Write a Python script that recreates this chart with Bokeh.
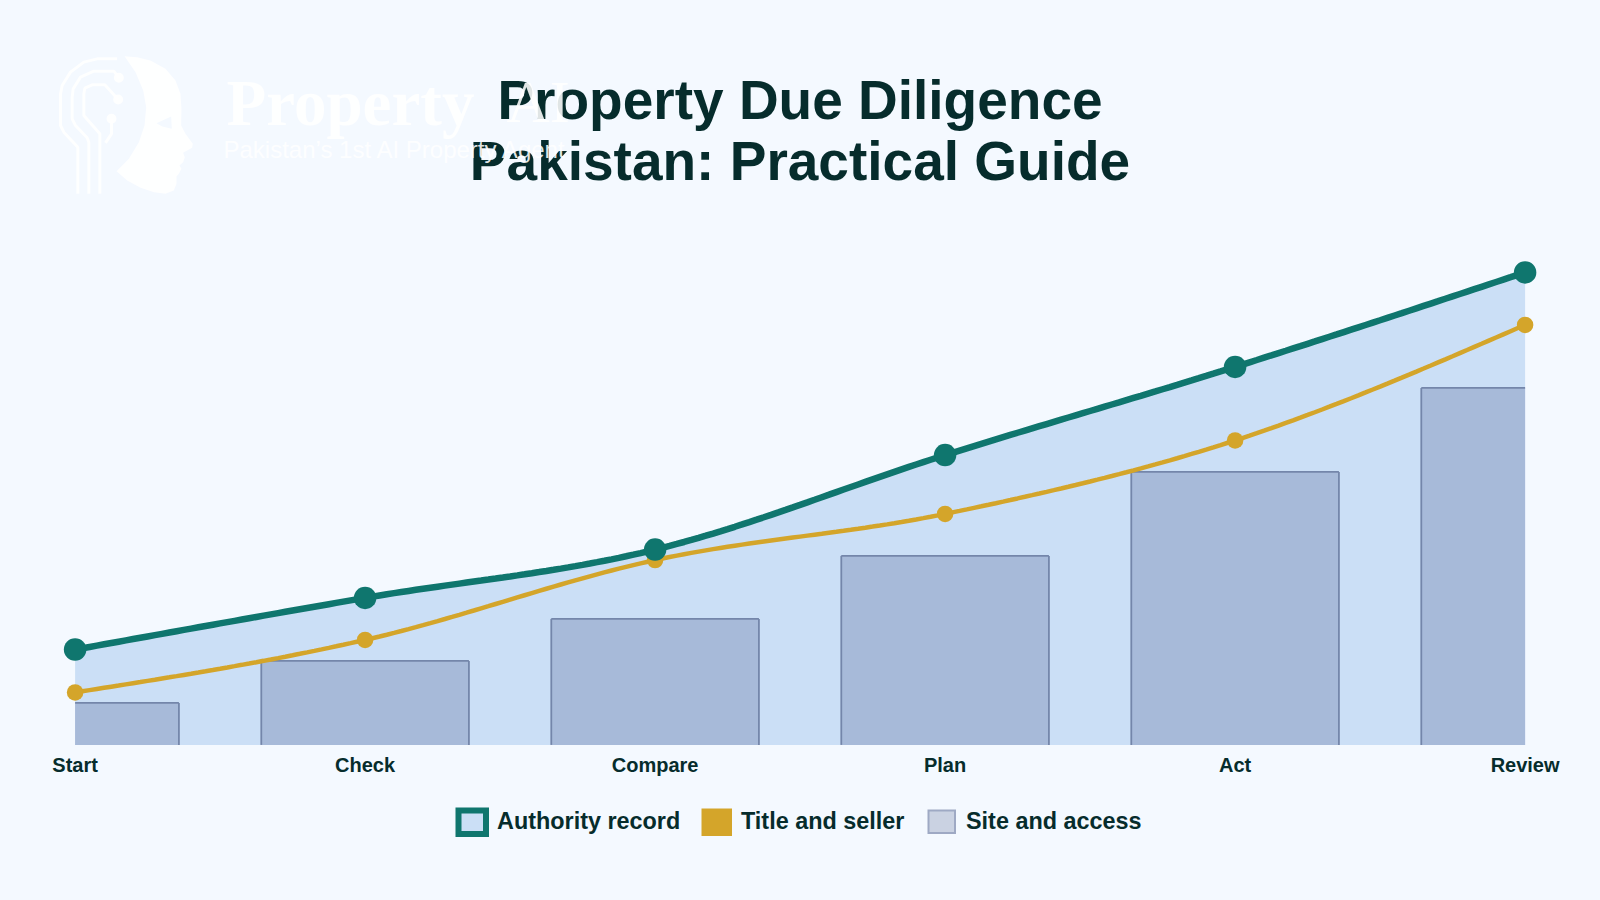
from bokeh.core.properties import value
from bokeh.embed import file_html
from bokeh.models import FixedTicker, LinearAxis, Range1d
from bokeh.plotting import figure
from bokeh.resources import INLINE

categories = ["Start", "Check", "Compare", "Plan", "Act", "Review"]
authority_record = [22.7, 35, 46.5, 69, 90, 112.5]
title_and_seller = [12.5, 25, 44, 55, 72.5, 100]
site_and_access = [10, 20, 30, 45, 65, 85]

BG = "#f4f9ff"
INK = "#062c2c"
TEAL = "#0f766e"
GOLD = "#d4a52a"
AREA = "#cbdff6"
BAR = "#a7bad9"
BAR_LINE = "#7486aa"

PX_X0, PX_STEP, PX_Y0, PX_UNIT = 74.6, 290, 744.4, 4.2
def X(px): return (px - PX_X0) / PX_STEP
def Y(py): return (PX_Y0 - py) / PX_UNIT

def monotone(ys, n=40):
    """d3 curveMonotoneX through the values, at unit x spacing."""
    m = len(ys)
    s = [ys[i + 1] - ys[i] for i in range(m - 1)]
    t = [0.0] * m
    for i in range(1, m - 1):
        a, b = s[i - 1], s[i]
        sign = (1 if a > 0 else -1) + (1 if b > 0 else -1)
        t[i] = sign * min(abs(a), abs(b), 0.25 * abs(a + b))
    t[0] = (3 * s[0] - t[1]) / 2
    t[-1] = (3 * s[-1] - t[-2]) / 2
    xs, out = [], []
    for i in range(m - 1):
        p0, p3 = ys[i], ys[i + 1]
        p1, p2 = p0 + t[i] / 3, p3 - t[i + 1] / 3
        for k in range(n + (i == m - 2)):
            u = k / n
            v = 1 - u
            xs.append(i + u)
            out.append(v**3 * p0 + 3 * v * v * u * p1 + 3 * v * u * u * p2 + u**3 * p3)
    return xs, out

W, H = 1584, 884
p = figure(width=W, height=H, output_backend="svg", toolbar_location=None,
           x_axis_type=None, y_axis_type=None, min_border=0,
           x_range=Range1d(X(0), X(W)), y_range=Range1d(Y(H), Y(0)),
           background_fill_color=BG, border_fill_color=BG, outline_line_color=None)
p.grid.visible = False

n = len(categories)
xs_idx = list(range(n))

tx, ty = monotone(authority_record)
p.varea(tx, y1=[0] * len(tx), y2=ty, fill_color=AREA)

half = 0.358
lefts = [max(i - half, 0) for i in xs_idx]
rights = [min(i + half, n - 1) for i in xs_idx]
p.quad(left=lefts, right=rights, bottom=0, top=site_and_access, fill_color=BAR, line_color=None)
p.segment(lefts, site_and_access, rights, site_and_access, line_color=BAR_LINE, line_width=1.8)
for i in xs_idx:
    if i - half >= 0:
        p.segment([lefts[i]], [0], [lefts[i]], [site_and_access[i]], line_color=BAR_LINE, line_width=1.8)
    if i + half <= n - 1:
        p.segment([rights[i]], [0], [rights[i]], [site_and_access[i]], line_color=BAR_LINE, line_width=1.8)

gx, gy = monotone(title_and_seller)
p.line(gx, gy, line_color=GOLD, line_width=4.5)
p.scatter(xs_idx, title_and_seller, size=16.5, fill_color=GOLD, line_color=None)
p.line(tx, ty, line_color=TEAL, line_width=6.5)
p.scatter(xs_idx, authority_record, size=22.5, fill_color=TEAL, line_color=None)

axis = LinearAxis(ticker=FixedTicker(ticks=xs_idx),
                  major_label_overrides={i: c for i, c in enumerate(categories)},
                  fixed_location=0,
                  axis_line_color=None, major_tick_line_color=None, minor_tick_line_color=None,
                  major_label_text_font="Liberation Sans", major_label_text_font_style="bold",
                  major_label_text_font_size="20px", major_label_text_color=INK,
                  major_label_standoff=3)
p.add_layout(axis, "below")

def txt(px, py, s, size, color=INK, style="bold", font="Liberation Sans", align="left", alpha=1.0):
    p.text([X(px)], [Y(py)], text=[s], text_font=value(font), text_font_style=style,
           text_font_size=f"{size}px", text_color=color, text_align=align,
           text_baseline="alphabetic", text_alpha=alpha)

txt(799.5, 99, "Property Due Diligence", 55, align="center")
txt(799.5, 160, "Pakistan: Practical Guide", 55, align="center")

# Watermark logo, over the title
LOGO = "#ffffff"
LA = 0.88
def zx(v): return X(50 + v / 3)
def zy(v): return Y(50 + v / 3)
head = [(222,17),(260,20),(300,30),(345,55),(375,90),(390,130),(393,175),(392,225),(405,250),(427,280),
        (425,292),(398,307),(403,320),(398,335),(387,345),(393,355),(385,370),(378,378),(378,400),(370,420),
        (345,430),(310,425),(270,412),(230,390),(198,362),(235,325),(265,275),(282,225),(287,170),(278,120),(255,65)]
eye = [(318,218),(362,198),(364,235),(335,228)]
p.patch([zx(a) for a, _ in head], [zy(b) for _, b in head], fill_color=LOGO, fill_alpha=LA, line_color=None)
p.patch([zx(a) for a, _ in eye], [zy(b) for _, b in eye], fill_color=BG, line_color=None)
traces = [
    [(200,25),(140,25),(100,35),(60,65),(35,105),(30,130),(30,225),(40,245),(82,290),(82,430)],
    [(205,82),(190,62),(130,62),(90,80),(68,115),(65,140),(65,205),(75,225),(110,262),(115,275),(115,430)],
    [(203,147),(163,103),(125,103),(103,113),(100,130),(100,195),(148,250),(148,430)],
    [(183,205),(183,250),(165,277)],
]
for tr in traces:
    p.line([zx(a) for a, _ in tr], [zy(b) for _, b in tr], line_color=LOGO, line_alpha=LA, line_width=3)
p.scatter([zx(205), zx(203), zx(183)], [zy(82), zy(147), zy(205)], size=10, fill_color=LOGO, fill_alpha=LA, line_color=None)
txt(226, 102, "Property", 65, color=LOGO, font="Liberation Serif", alpha=LA)
txt(506, 101, "AI", 60, color=LOGO, style="normal", font="Liberation Serif", alpha=LA)
txt(223, 149, "Pakistan\u2019s 1st AI Property Agent", 24, color=LOGO, style="normal", alpha=LA)

# Legend
p.quad(left=[X(458)], right=[X(485.5)], bottom=[Y(833.5)], top=[Y(810)], fill_color=AREA,
       line_color=TEAL, line_width=6, line_join="miter")
p.quad(left=[X(701)], right=[X(731.5)], bottom=[Y(835.5)], top=[Y(808)], fill_color=GOLD, line_color=None)
p.quad(left=[X(928)], right=[X(954.5)], bottom=[Y(832.5)], top=[Y(810)], fill_color="#cad2e2",
       line_color="#9ea9c4", line_width=2, line_join="miter")
txt(496.5, 820.5, "Authority record", 23.4)
txt(740.5, 820.5, "Title and seller", 23.4)
txt(965.5, 820.5, "Site and access", 23.4)

html = file_html(p, INLINE).replace("<head>", f"<head><style>html,body{{background:{BG}}}</style>", 1)
open("out.html", "w").write(html)
